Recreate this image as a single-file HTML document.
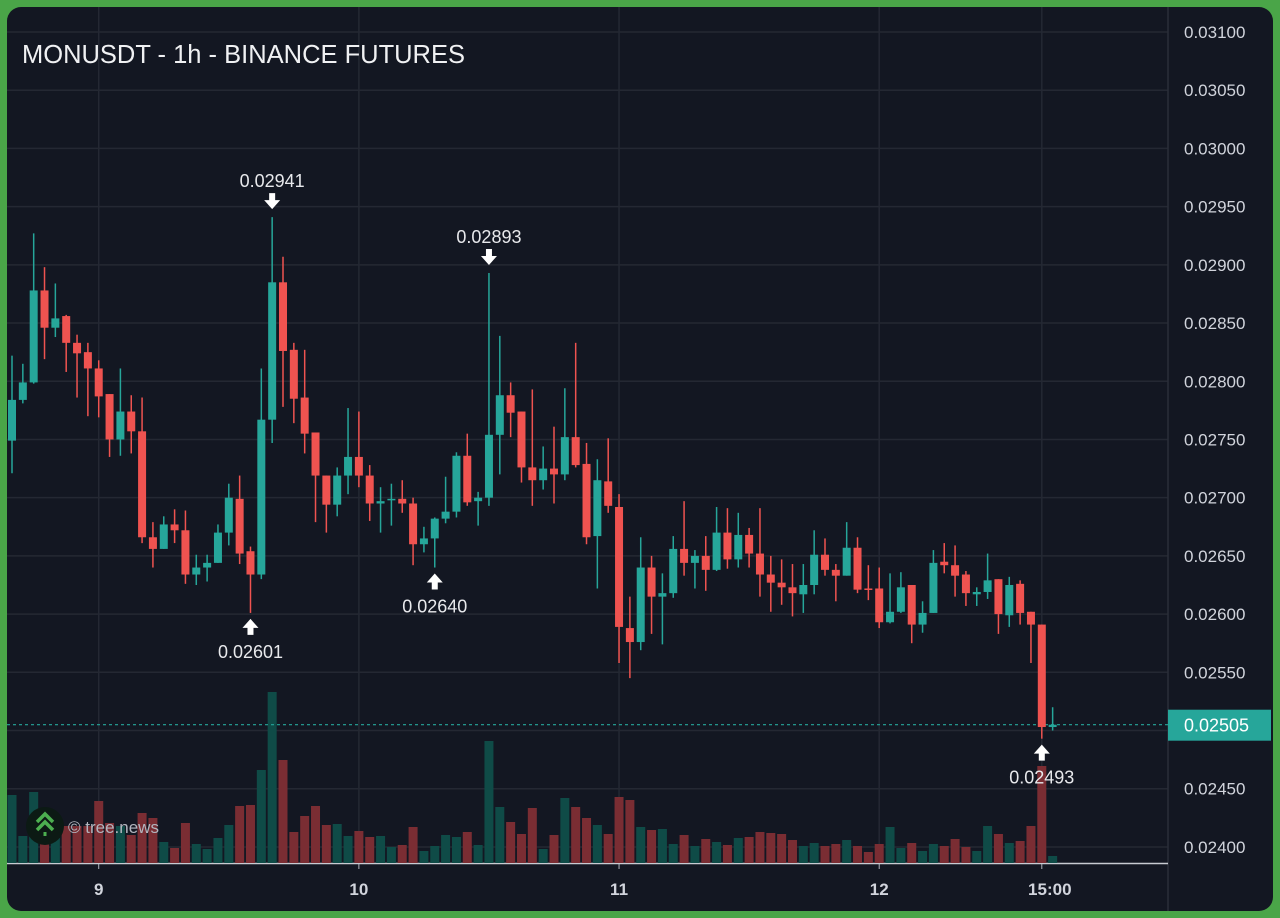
<!DOCTYPE html>
<html><head><meta charset="utf-8">
<style>
html,body{margin:0;padding:0;background:#4aa548;width:1280px;height:918px;overflow:hidden;font-family:"Liberation Sans",sans-serif;}
#panel{position:absolute;left:7px;top:7px;width:1266px;height:904px;background:#131722;border-radius:14px;overflow:hidden;}
svg{position:absolute;left:0;top:0;}
</style></head>
<body>
<div id="panel"></div>
<svg id="chart" width="1280" height="918"></svg>
<script>
const ohlc = [
[.02749,.02822,.02721,.02784],[.02784,.02815,.02781,.02799],[.02799,.02927,.02798,.02878],[.02878,.02898,.02819,.02846],
[.02846,.02884,.02838,.02854],[.02856,.02857,.02808,.02833],[.02833,.02840,.02786,.02824],[.02825,.02833,.02770,.02811],
[.02811,.02818,.02769,.02787],[.02789,.02789,.02735,.02750],[.02750,.02811,.02736,.02774],[.02774,.02788,.02738,.02757],
[.02757,.02786,.02661,.02666],[.02666,.02679,.02640,.02656],[.02656,.02684,.02656,.02677],[.02677,.02690,.02661,.02672],
[.02672,.02689,.02626,.02634],[.02634,.02651,.02625,.02640],[.02640,.02651,.02628,.02644],[.02644,.02677,.02644,.02670],
[.02670,.02712,.02659,.02700],[.02699,.02719,.02643,.02652],[.02654,.02658,.02601,.02634],[.02634,.02811,.02630,.02767],
[.02767,.02941,.02747,.02885],[.02885,.02907,.02778,.02826],[.02827,.02833,.02764,.02785],[.02786,.02827,.02738,.02755],
[.02756,.02756,.02679,.02719],[.02719,.02719,.02670,.02694],[.02694,.02726,.02684,.02719],[.02719,.02777,.02703,.02735],
[.02735,.02774,.02709,.02719],[.02719,.02728,.02680,.02695],[.02695,.02709,.02670,.02697],[.02698,.02712,.02676,.02699],
[.02699,.02715,.02687,.02695],[.02695,.02700,.02642,.02660],[.02660,.02675,.02653,.02665],[.02665,.02683,.02640,.02682],
[.02682,.02718,.02678,.02688],[.02688,.02739,.02683,.02736],[.02736,.02755,.02693,.02696],[.02697,.02705,.02676,.02700],
[.02700,.02893,.02693,.02754],[.02754,.02839,.02720,.02788],[.02788,.02799,.02752,.02773],[.02774,.02774,.02713,.02726],
[.02726,.02793,.02693,.02715],[.02715,.02744,.02707,.02725],[.02725,.02761,.02695,.02720],[.02720,.02794,.02715,.02752],
[.02752,.02833,.02726,.02728],[.02729,.02747,.02660,.02666],[.02667,.02733,.02622,.02715],[.02714,.02751,.02687,.02693],
[.02692,.02703,.02558,.02589],[.02588,.02615,.02545,.02576],[.02576,.02666,.02569,.02640],[.02640,.02650,.02583,.02615],
[.02615,.02635,.02574,.02618],[.02618,.02667,.02614,.02656],[.02656,.02697,.02633,.02644],[.02644,.02655,.02622,.02650],
[.02650,.02667,.02620,.02638],[.02638,.02692,.02637,.02670],[.02670,.02691,.02639,.02647],[.02647,.02687,.02640,.02668],
[.02668,.02674,.02640,.02652],[.02652,.02691,.02615,.02634],[.02634,.02650,.02602,.02627],[.02627,.02647,.02608,.02623],
[.02623,.02643,.02598,.02618],[.02617,.02643,.02601,.02625],[.02625,.02672,.02617,.02651],[.02651,.02665,.02633,.02638],
[.02638,.02643,.02611,.02633],[.02633,.02679,.02633,.02657],[.02657,.02666,.02618,.02621],[.02622,.02642,.02612,.02621],
[.02622,.02640,.02588,.02593],[.02593,.02635,.02592,.02602],[.02602,.02636,.02601,.02623],[.02625,.02625,.02575,.02591],
[.02591,.02611,.02584,.02601],[.02601,.02655,.02601,.02644],[.02645,.02661,.02635,.02642],[.02642,.02659,.02615,.02633],
[.02634,.02637,.02607,.02618],[.02617,.02623,.02607,.02619],[.02619,.02652,.02613,.02629],[.02630,.02630,.02583,.02600],
[.02599,.02632,.02589,.02625],[.02626,.02629,.02591,.02601],[.02602,.02602,.02558,.02591],[.02591,.02591,.02493,.02503],
[.02503,.02520,.02500,.02505]];
const volumes = [68,27,71,20,25,37,37,37,62,40,37,28,50,45,21,15,40,19,14,25,38,57,58,93,171,103,31,47,57,38,39,27,32,26,27,16,18,36,12,17,28,26,31,18,122,56,41,29,55,14,28,65,56,45,38,29,66,63,36,33,34,19,28,17,24,21,18,25,26,31,30,29,23,17,20,17,19,23,17,11,19,36,15,20,12,19,17,24,16,12,37,29,20,22,37,97,7];
const priceTicks = ["0.03100","0.03050","0.03000","0.02950","0.02900","0.02850","0.02800","0.02750","0.02700","0.02650","0.02600","0.02550","0.02500","0.02450","0.02400"];
const timeLabels = ["9","10","11","12","15:00"];
const timeIndex = [8,32,56,80,95];
const markers = [[24,"high"],[22,"low"],[39,"low"],[44,"high"],[95,"low"]];
const lastPrice = 0.02505;

const NS="http://www.w3.org/2000/svg";
const svg=document.getElementById('chart');
const yP=p=>32+(0.031-p)/0.0005*58.21;
const xI=i=>12+i*10.84;
const vBase=863, vScale=1;
function mk(tag,attrs,parent){const e=document.createElementNS(NS,tag);for(const k in attrs)e.setAttribute(k,attrs[k]);(parent||svg).appendChild(e);return e;}

priceTicks.forEach(t=>{const y=yP(parseFloat(t));
 const g=mk('line',{x1:7,x2:1168,y1:y,y2:y,stroke:'#242833','stroke-width':1.5});
 
 
 const tx=mk('text',{x:1184,y:y+6,fill:'#d1d4dc','font-size':17,'font-family':'Liberation Sans, sans-serif'});
 tx.textContent=t;
 
 
});
timeIndex.forEach((ti,k)=>{const x=xI(ti);
 const g=mk('line',{x1:x,x2:x,y1:7,y2:863,stroke:'#242833','stroke-width':1.5});
 
 
 mk('line',{x1:x,x2:x,y1:863,y2:869,stroke:'#b2b5be','stroke-width':1});
 const lx = k===timeLabels.length-1 ? x+8 : x;
 const tx=mk('text',{x:lx,y:895,fill:'#d1d4dc','font-size':17,'font-weight':'bold','text-anchor':'middle'});
 tx.textContent=timeLabels[k];
 
 
});
mk('line',{x1:1168,x2:1168,y1:7,y2:911,stroke:'#2a2e39','stroke-width':1.5});
const ax=mk('line',{x1:7,x2:1168,y1:863.5,y2:863.5,stroke:'#c8cbd2','stroke-width':1.5});



volumes.forEach((v,i)=>{const up=ohlc[i][3]>=ohlc[i][0];const h=v*vScale;
 const r=mk('rect',{x:xI(i)-4.5,y:vBase-h,width:9,height:h,fill:up?'#0f4b47':'#7a2d33'});
 
 
});
const ly=yP(lastPrice);
mk('line',{x1:7,x2:1168,y1:ly,y2:ly,stroke:'#26a69a','stroke-width':1.2,'stroke-dasharray':'3,3'});
ohlc.forEach((c,i)=>{const [o,h,l,cl]=c;const up=cl>=o;const col=up?'#26a69a':'#ef5350';const x=xI(i);
 const g=mk('g',{});
 
 
 mk('line',{x1:x,x2:x,y1:yP(h),y2:yP(l),stroke:col,'stroke-width':1.5},g);
 const top=yP(Math.max(o,cl)),bot=yP(Math.min(o,cl));
 mk('rect',{x:x-4,y:top,width:8,height:Math.max(1.5,bot-top),fill:col},g);
});
markers.forEach(([i,type])=>{const x=xI(i);const c=ohlc[i];
 const g=mk('g',{});
 
 
 if(type==='high'){const y=yP(c[1]);
  mk('path',{d:`M${x-3},${y-24} h6 v7 h5 l-8,9 l-8,-9 h5 z`,fill:'#fff'},g);
  const t=mk('text',{x:x,y:y-30,fill:'#e8e9ec','font-size':18,'text-anchor':'middle'},g);t.textContent=c[1].toFixed(5);
 } else {const y=yP(c[2]);
  mk('path',{d:`M${x},${y+6} l8,9 h-5 v7 h-6 v-7 h-5 z`,fill:'#fff'},g);
  const t=mk('text',{x:x,y:y+45,fill:'#e8e9ec','font-size':18,'text-anchor':'middle'},g);t.textContent=c[2].toFixed(5);
 }
});
const b=mk('rect',{x:1168,y:ly-15,width:103,height:31,fill:'#26a69a'});


const bt=mk('text',{x:1184,y:ly+7,fill:'#fff','font-size':18});bt.textContent=lastPrice.toFixed(5);
const ti=mk('text',{x:22,y:63,fill:'#f0f1f3','font-size':25.5});ti.textContent='MONUSDT - 1h - BINANCE FUTURES';


const lg=mk('g',{});


mk('circle',{cx:45,cy:826,r:19,fill:'#0c1a14'},lg);
mk('path',{d:'M37,822 l8,-8 l8,8 M37,830 l8,-8 l8,8',stroke:'#4caf50','stroke-width':3.5,fill:'none'},lg);
mk('rect',{x:43.5,y:832,width:3,height:4,fill:'#4caf50'},lg);
const lt=mk('text',{x:68,y:833,fill:'#b2b5be','font-size':17},lg);lt.textContent='© tree.news';
</script>
</body></html>
